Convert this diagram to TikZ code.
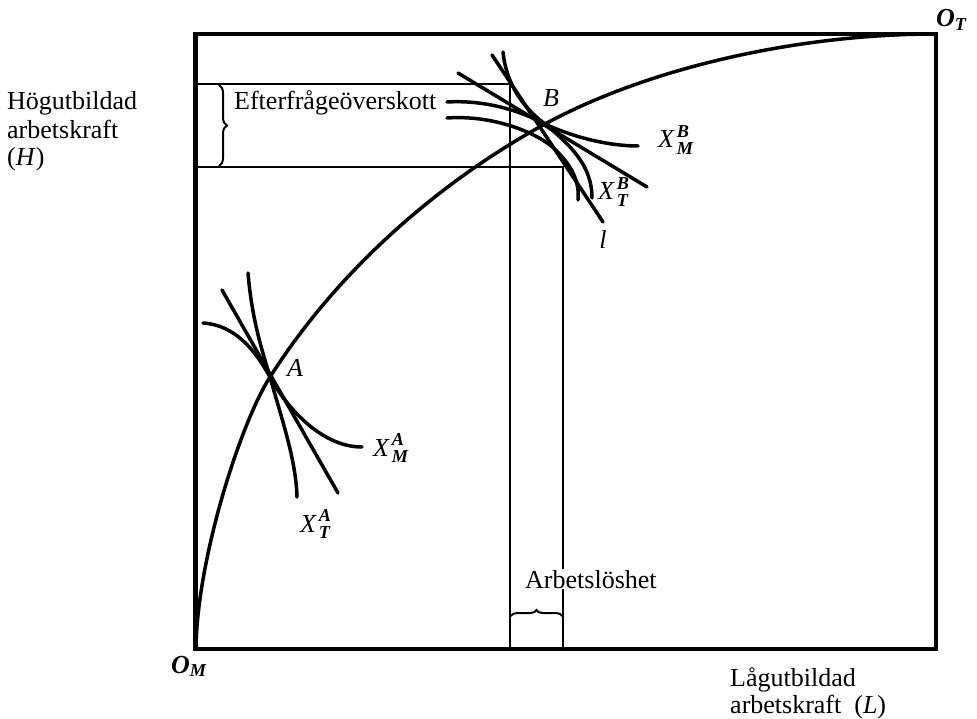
\documentclass[tikz,border=0pt]{standalone}
\usepackage{fontspec}
\usepackage{amsmath}
\setmainfont{Liberation Serif}
\usetikzlibrary{decorations.pathreplacing}
\tikzset{
  frame/.style={line width=4.5pt},
  guide/.style={line width=2pt},
  curve/.style={line width=3.5pt, line cap=round},
  lbl/.style={inner sep=0pt, font=\fontsize{26}{30}\selectfont},
  bracestyle/.style={line width=2pt, decorate, decoration={brace, amplitude=#1}}
}
\newcommand{\Xlab}[2]{$\textit{X}^{\,\textbf{\textit{#1}}}_{\,\textbf{\textit{#2}}}$}
\begin{document}
\begin{tikzpicture}[x=1pt,y=-1pt]
\useasboundingbox (0,0) rectangle (977,719);
% key points
\coordinate (OM) at (196,648);
\coordinate (OT) at (936,34);
\coordinate (A) at (270,377);
\coordinate (B) at (545,124);
% frame
\draw[frame] (195.5,34) rectangle (936,649);
% guide lines
\coordinate (h1l) at (195.5,84);  \coordinate (h1r) at (510,84);
\coordinate (h2l) at (195.5,167); \coordinate (h2r) at (563,167);
\coordinate (v1b) at (510,649);   \coordinate (v2b) at (563,649);
\draw[guide] (h1l) -- (h1r) -- (v1b);
\draw[guide] (h2l) -- (h2r) -- (v2b);
% braces
\draw[bracestyle=8pt] (219,85) -- (219,166);
\draw[bracestyle=6pt] (511,616) -- (562,616);
% contract curve
\draw[curve] (OM) .. controls (197,560) and (240,424) .. (A)
             .. controls (347,256) and (457,172) .. (B)
             .. controls (650,67) and (800,34) .. (OT);
% curves at A
\draw[curve] (203,323) .. controls (235,325) and (255,350) .. (A)
             .. controls (285,405) and (320,447) .. (362,447);
\draw[curve] (248,273) .. controls (252,320) and (262,350) .. (A)
             .. controls (282,420) and (296,460) .. (297,497);
\coordinate (tA1) at (222,290); \coordinate (tA2) at (338,493);
\draw[curve] (tA1) -- (tA2);
% curves at B
\draw[curve] (447,102) .. controls (480,100) and (515,108) .. (B)
             .. controls (575,138) and (610,146) .. (638,146);
\draw[curve] (503,52) .. controls (506,82) and (521,106) .. (B)
             .. controls (570,145) and (592,165) .. (592,198);
\draw[curve] (447,118) .. controls (490,115) and (530,130) .. (550,145)
             .. controls (570,162) and (580,180) .. (578,200);
\coordinate (tB1) at (458,73); \coordinate (tB2) at (647,187);
\draw[curve] (tB1) -- (tB2);
\coordinate (l1) at (492,55); \coordinate (l2) at (603,222);
\draw[curve] (l1) -- (l2);
% labels
\node[lbl, anchor=base west] (h1) at (7,110) {Högutbildad};
\node[lbl, anchor=base west] (h2) at (7,139) {arbetskraft};
\node[lbl, anchor=base west] (h3) at (7,166) {(\textit{H})};
\node[lbl, anchor=base west] (ef) at (234,110) {Efterfrågeöverskott};
\node[lbl, anchor=base west, fill=white, inner sep=1pt] (ar) at (524,588) {Arbetslöshet};
\node[lbl, anchor=base west] (l1t) at (730,686) {Lågutbildad};
\node[lbl, anchor=base west] (l2t) at (730,713) {arbetskraft\ \ (\textit{L})};
\node[lbl, anchor=base] (Alab) at (295,376) {\textit{A}};
\node[lbl, anchor=base] (Blab) at (551,107) {\textit{B}};
\node[lbl, anchor=base west] (xma) at (373,456) {\Xlab{A}{M}};
\node[lbl, anchor=base west] (xta) at (300,532) {\Xlab{A}{T}};
\node[lbl, anchor=base west] (xmb) at (658,148) {\Xlab{B}{M}};
\node[lbl, anchor=base west] (xtb) at (598,200) {\Xlab{B}{T}};
\node[lbl, anchor=base] (llab) at (603,249) {\textit{l}};
\node[lbl, anchor=base west] (om) at (171,673) {$\textbf{\textit{O}}_{\textbf{\textit{M}}}$};
\node[lbl, anchor=base west] (ot) at (936,27) {$\textbf{\textit{O}}_{\textbf{\textit{T}}}$};
\end{tikzpicture}
\end{document}
